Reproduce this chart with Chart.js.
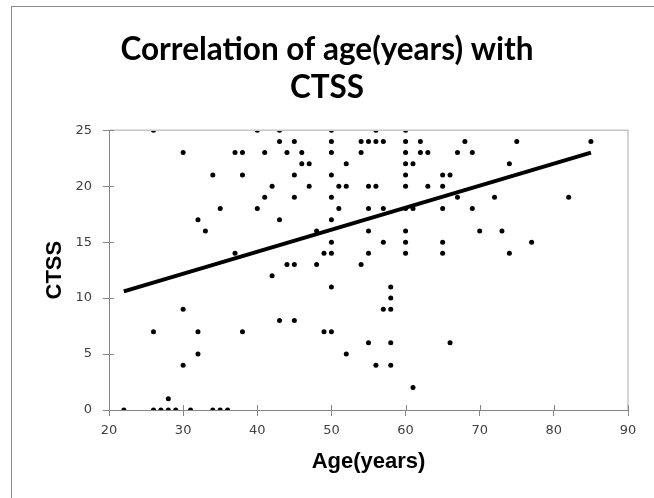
<!DOCTYPE html>
<html>
<head>
<meta charset="utf-8">
<script src="https://cdn.jsdelivr.net/npm/chart.js@4"></script>
<style>
  body { margin: 0; background: #fff; }
  #frame {
    position: absolute; left: 11px; top: 6px; width: 700px; height: 600px;
    border-left: 1px solid #8a8a8a; border-top: 1px solid #8a8a8a;
  }
  #chart { position: absolute; left: 0; top: 0; }
</style>
</head>
<body>
<div id="frame"></div>
<canvas id="chart" width="654" height="498"></canvas>
<script>
// Age (years) and CTSS per patient
const ages = [
  26, 40, 43, 50, 56, 60,
  43, 45, 50, 54, 55, 56, 57, 60, 62, 68, 75, 85,
  30, 37, 38, 41, 44, 46, 50, 54, 60, 62, 63, 67, 69,
  46, 47, 52, 60, 61, 74,
  34, 38, 45, 50, 60, 65, 66,
  42, 47, 51, 52, 55, 56, 60, 63, 65,
  41, 45, 50, 67, 72, 82,
  35, 40, 51, 55, 57, 60, 61, 65, 69,
  32, 43, 50,
  33, 48, 55, 60, 70, 73,
  50, 57, 60, 65, 77,
  37, 49, 50, 55, 60, 65, 74,
  44, 45, 48, 54,
  42,
  50, 58,
  58,
  30, 57, 58,
  43, 45,
  26, 32, 38, 49, 50,
  55, 58, 66,
  32, 52,
  30, 56, 58,
  61,
  28,
  22, 26, 27, 28, 29, 31, 34, 35, 36
];
const ctss = [
  25, 25, 25, 25, 25, 25,
  24, 24, 24, 24, 24, 24, 24, 24, 24, 24, 24, 24,
  23, 23, 23, 23, 23, 23, 23, 23, 23, 23, 23, 23, 23,
  22, 22, 22, 22, 22, 22,
  21, 21, 21, 21, 21, 21, 21,
  20, 20, 20, 20, 20, 20, 20, 20, 20,
  19, 19, 19, 19, 19, 19,
  18, 18, 18, 18, 18, 18, 18, 18, 18,
  17, 17, 17,
  16, 16, 16, 16, 16, 16,
  15, 15, 15, 15, 15,
  14, 14, 14, 14, 14, 14, 14,
  13, 13, 13, 13,
  12,
  11, 11,
  10,
  9, 9, 9,
  8, 8,
  7, 7, 7, 7, 7,
  6, 6, 6,
  5, 5,
  4, 4, 4,
  2,
  1,
  0, 0, 0, 0, 0, 0, 0, 0, 0
];

// linear trend line end points
const trendAges = [22, 85];
const trendCtss = [10.6, 23.0];

const xTicks = [20, 30, 40, 50, 60, 70, 80, 90];
const yTicks = [0, 5, 10, 15, 20, 25];

const axisGray = "#868686";

// plot area border (top/right) and the inner half of the crossing tick marks
const plotFrame = {
  id: "plotFrame",
  afterDatasetsDraw(chart) {
    const { ctx, chartArea: a, scales } = chart;
    ctx.save();
    ctx.strokeStyle = "#c6c6c6";
    ctx.lineWidth = 1.5;
    ctx.beginPath();
    ctx.moveTo(a.left, a.top);
    ctx.lineTo(a.right, a.top);
    ctx.lineTo(a.right, a.bottom);
    ctx.stroke();

    ctx.strokeStyle = axisGray;
    ctx.lineWidth = 1;
    ctx.beginPath();
    xTicks.forEach((v) => {
      const px = Math.round(scales.x.getPixelForValue(v)) + 0.5;
      ctx.moveTo(px, a.bottom);
      ctx.lineTo(px, a.bottom - 5);
    });
    yTicks.forEach((v) => {
      const py = Math.round(scales.y.getPixelForValue(v)) + 0.5;
      ctx.moveTo(a.left, py);
      ctx.lineTo(a.left + 5, py);
    });
    ctx.stroke();
    ctx.restore();
  },
};

new Chart(document.getElementById("chart"), {
  type: "scatter",
  data: {
    datasets: [
      {
        type: "line",
        label: "Trend",
        data: trendAges.map((x, i) => ({ x, y: trendCtss[i] })),
        borderColor: "#000",
        borderWidth: 4,
        pointRadius: 0,
        fill: false,
      },
      {
        label: "CTSS",
        data: ages.map((x, i) => ({ x, y: ctss[i] })),
        backgroundColor: "#000",
        borderWidth: 0,
        pointRadius: 2.5,
      },
    ],
  },
  options: {
    responsive: false,
    animation: false,
    devicePixelRatio: 1,
    layout: { padding: { left: 26, right: 26, top: 0, bottom: 0 } },
    plugins: {
      legend: { display: false },
      tooltip: { enabled: false },
      title: {
        display: true,
        text: ["Correlation of age(years) with", "CTSS"],
        color: "#000",
        font: { family: "Lato", size: 31.5, weight: "bold", lineHeight: 1.21 },
        padding: { top: 31, bottom: 23 },
      },
    },
    scales: {
      x: {
        type: "linear",
        min: 20,
        max: 90,
        afterFit: (s) => { s.height = 88; },
        afterBuildTicks: (s) => { s.ticks = xTicks.map((v) => ({ value: v })); },
        border: { display: true, color: axisGray, width: 1 },
        grid: { drawOnChartArea: false, drawTicks: true, tickLength: 6, color: axisGray },
        ticks: {
          padding: 7,
          color: "#404040",
          font: { family: "DejaVu Sans", size: 13 },
        },
        title: {
          display: true,
          text: "Age(years)",
          color: "#000",
          font: { family: "Liberation Sans", size: 22, weight: "bold", lineHeight: 1.2 },
          padding: { top: 0, bottom: 23 },
        },
      },
      y: {
        type: "linear",
        min: 0,
        max: 25,
        afterFit: (s) => { s.width = 83; },
        afterBuildTicks: (s) => { s.ticks = yTicks.map((v) => ({ value: v })); },
        border: { display: true, color: axisGray, width: 1 },
        grid: { drawOnChartArea: false, drawTicks: true, tickLength: 6, color: axisGray },
        ticks: {
          padding: 11,
          color: "#404040",
          font: { family: "DejaVu Sans", size: 13 },
        },
        title: {
          display: true,
          text: "CTSS",
          color: "#000",
          font: { family: "Liberation Sans", size: 22, weight: "bold", lineHeight: 1.2 },
          padding: { top: 16, bottom: 0 },
        },
      },
    },
  },
  plugins: [plotFrame],
});
</script>
</body>
</html>
